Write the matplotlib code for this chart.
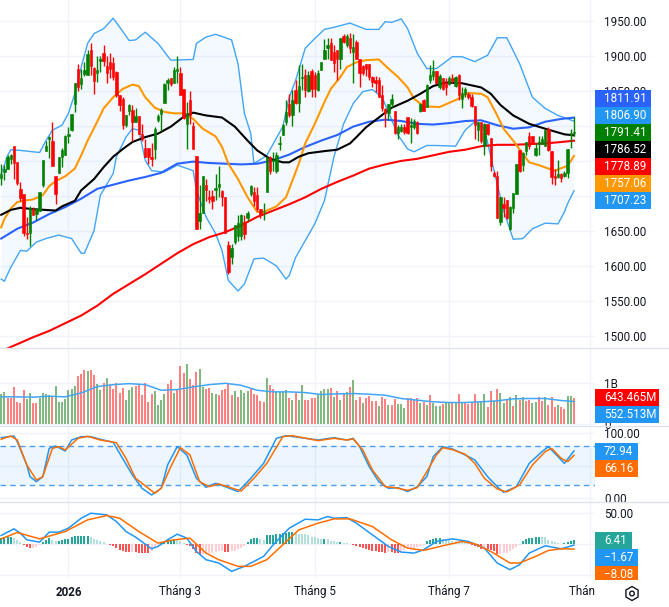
import numpy as np
import matplotlib
matplotlib.use('Agg')
import matplotlib.pyplot as plt
from matplotlib.patches import Rectangle, RegularPolygon, Circle

plt.rcParams['font.family'] = ['Roboto', 'DejaVu Sans']

# gia nen
opens = [1725,1734,1739,1753,1772,1749,1710,1703,1647,1647,
         1681,1674,1678,1716,1764,1781,1779,1729,1733,1756,
         1759,1785,1794,1831,1881,1860,1874,1873,1909,1883,
         1875,1893,1904,1885,1892,1890,1877,1844,1838,1802,
         1821,1823,1806,1814,1789,1769,1769,1756,1767,1808,
         1817,1833,1861,1869,1861,1879,1875,1853,1803,1837,
         1800,1757,1664,1675,1716,1698,1700,1708,1712,1707,
         1699,1630,1613,1634,1642,1643,1663,1669,1702,1706,
         1701,1681,1678,1705,1755,1750,1736,1774,1787,1805,
         1832,1816,1851,1833,1868,1873,1850,1879,1873,1851,
         1880,1895,1911,1918,1905,1908,1896,1928,1916,1925,
         1906,1920,1896,1886,1889,1889,1870,1865,1865,1844,
         1824,1818,1831,1822,1790,1793,1799,1813,1799,1799,
         1806,1821,1837,1827,1865,1871,1879,1855,1868,1862,
         1860,1869,1857,1873,1839,1846,1846,1841,1829,1794,
         1806,1772,1803,1783,1733,1729,1662,1688,1694,1652,
         1683,1702,1765,1744,1764,1785,1785,1759,1774,1774,
         1772,1796,1764,1728,1727,1731,1728,1733,1787,1790]
highs = [1746,1744,1758,1760,1772,1749,1720,1703,1670,1686,
         1684,1682,1706,1751,1779,1785,1805,1729,1755,1768,
         1787,1798,1817,1861,1888,1882,1892,1909,1918,1884,
         1900,1900,1916,1900,1904,1898,1879,1844,1841,1815,
         1832,1830,1826,1814,1803,1782,1769,1775,1799,1817,
         1825,1861,1868,1869,1884,1900,1884,1853,1834,1850,
         1806,1757,1716,1728,1724,1708,1708,1732,1743,1708,
         1699,1636,1631,1659,1672,1674,1672,1678,1715,1713,
         1713,1681,1690,1755,1757,1763,1763,1785,1803,1837,
         1846,1851,1865,1887,1888,1882,1878,1882,1877,1880,
         1891,1924,1926,1926,1916,1908,1926,1932,1932,1933,
         1932,1923,1896,1887,1889,1889,1871,1871,1870,1858,
         1825,1832,1846,1822,1801,1803,1803,1813,1812,1810,
         1807,1833,1838,1860,1887,1894,1879,1874,1869,1868,
         1871,1874,1871,1874,1855,1856,1849,1845,1829,1806,
         1806,1804,1803,1783,1736,1736,1699,1698,1694,1685,
         1704,1745,1765,1763,1777,1791,1785,1775,1785,1786,
         1795,1798,1764,1739,1751,1733,1736,1767,1795,1813]
lows = [1715,1722,1739,1746,1724,1715,1693,1643,1639,1629,
        1672,1665,1678,1713,1764,1754,1743,1688,1733,1741,
        1759,1775,1793,1820,1850,1853,1871,1873,1873,1845,
        1863,1877,1885,1861,1868,1866,1841,1822,1795,1799,
        1815,1778,1806,1788,1779,1755,1746,1743,1753,1806,
        1793,1833,1851,1857,1861,1861,1844,1810,1767,1803,
        1767,1652,1652,1675,1693,1690,1681,1694,1698,1686,
        1647,1588,1603,1631,1636,1637,1639,1664,1700,1685,
        1679,1669,1666,1705,1732,1736,1733,1766,1787,1802,
        1813,1800,1832,1820,1851,1841,1848,1841,1841,1850,
        1880,1895,1896,1894,1877,1865,1882,1918,1913,1904,
        1861,1895,1856,1873,1871,1865,1856,1849,1841,1822,
        1799,1808,1827,1789,1782,1791,1789,1789,1776,1796,
        1789,1820,1822,1827,1861,1865,1860,1853,1852,1844,
        1858,1861,1855,1837,1826,1841,1839,1827,1782,1779,
        1775,1758,1787,1736,1727,1669,1659,1670,1667,1651,
        1675,1702,1734,1736,1759,1767,1775,1757,1759,1774,
        1772,1764,1717,1716,1726,1720,1727,1726,1769,1785]
closes = [1732,1738,1756,1758,1747,1718,1697,1647,1645,1683,
          1672,1681,1705,1751,1772,1784,1743,1703,1755,1766,
          1785,1788,1817,1861,1855,1868,1880,1903,1886,1864,
          1880,1896,1893,1876,1882,1870,1844,1830,1801,1815,
          1830,1806,1814,1789,1781,1755,1755,1753,1796,1814,
          1823,1860,1866,1860,1880,1882,1844,1812,1818,1815,
          1767,1652,1676,1728,1708,1695,1693,1711,1717,1699,
          1647,1591,1626,1659,1661,1673,1645,1675,1714,1693,
          1681,1673,1679,1755,1735,1752,1758,1775,1801,1820,
          1815,1837,1833,1857,1870,1851,1873,1853,1853,1875,
          1891,1908,1916,1894,1890,1896,1925,1920,1928,1911,
          1913,1896,1876,1876,1882,1870,1863,1862,1842,1825,
          1818,1831,1838,1790,1799,1799,1791,1790,1801,1807,
          1790,1832,1822,1858,1873,1879,1861,1871,1853,1855,
          1868,1864,1870,1844,1847,1853,1841,1828,1801,1806,
          1779,1803,1788,1743,1729,1669,1699,1683,1669,1684,
          1704,1745,1735,1762,1777,1772,1775,1769,1777,1782,
          1794,1765,1727,1725,1732,1725,1733,1767,1790,1791.41]

# duong chi bao: moi duong co mang phien rieng
line_idx = list(range(0, 180, 5)) + [179]
ma_blue = [1639,1653,1662,1674,1684,1696,1710,1716,1722,1727,1733,1746,1749,1747,1746,1745,1746,1751,1759,
           1770,1779,1787,1799,1806,1809,1807,1803,1802,1804,1807,1808,1801,1796,1798,1806,1810,1811.91]
ma_red = [1478,1488,1498,1507,1518,1529,1543,1560,1574,1588,1603,1618,1631,1641,1648,1658,1670,1679,1688,
          1698,1710,1720,1729,1739,1745,1750,1753,1758,1763,1766,1771,1773,1773,1774,1775,1777,1778.89]

orange_idx = [0,1,3,5,7,10,13,15,17,20,23,25,27,30,32,35,38,41,43,45,48,51,54,57,60,63,67,69,71,74,77,80,82,86,89,91,93,95,98,
              101,103,106,108,111,114,118,121,124,127,129,132,137,140,143,146,150,152,155,157,160,163,165,168,171,173,177,179]
ma_orange = [1655,1667,1682,1691,1693,1695,1701,1714,1721,1728,1739,1758,1779,1806,1825,1841,1853,1859,1857,1841,1826,1820,
             1818,1818,1810,1796,1785,1770,1746,1724,1698,1677,1677,1685,1698,1722,1746,1775,1803,1834,1853,1870,1884,1891,
             1894,1895,1882,1870,1855,1839,1828,1827,1833,1839,1847,1846,1841,1815,1796,1779,1760,1748,1744,1739,1736,1743,1757.06]

black_idx = [0,3,6,10,17,19,23,25,29,32,35,38,41,45,49,53,57,60,64,69,73,77,80,84,88,90,93,96,101,105,109,111,114,118,122,127,
             131,135,139,144,150,153,156,160,165,170,176,179]
ma_black = [1673,1680,1683,1681,1679,1685,1693,1708,1724,1741,1756,1767,1777,1784,1789,1799,1813,1819,1815,1812,1799,1779,
            1765,1753,1748,1748,1756,1761,1764,1766,1775,1784,1798,1812,1826,1836,1846,1857,1862,1861,1855,1846,1830,1815,
            1803,1796,1788,1786.52]

upper_idx = [0,1,2,3,6,12,14,16,19,21,23,25,27,29,32,35,38,40,42,45,49,53,60,61,64,67,72,74,76,78,
             79,83,88,90,92,95,98,101,104,109,114,118,120,122,125,127,130,133,136,139,141,144,148,152,155,158,162,166,170,174,179]
bb_upper = [1732,1744,1758,1766,1765,1762,1779,1794,1801,1818,1846,1884,1918,1932,1939,1954,1935,1922,1923,1934,
            1918,1894,1895,1918,1927,1931,1923,1889,1818,1789,1746,1758,1799,1841,1865,1911,1925,1938,1941,1947,
            1938,1938,1949,1948,1953,1939,1904,1882,1882,1892,1899,1899,1892,1901,1926,1926,1889,1841,1825,1815,1806.90]

lower_idx = [0,1,3,6,8,11,14,18,22,25,26,29,31,35,36,39,41,43,45,47,51,55,60,61,64,67,69,71,74,76,
             79,82,86,89,90,92,95,98,101,104,107,110,113,116,119,121,124,127,129,133,136,142,145,148,151,154,157,160,163,166,
             170,174,176,177,179]
bb_lower = [1581,1578,1598,1622,1621,1634,1639,1644,1639,1618,1618,1650,1701,1732,1756,1784,1796,1794,1751,1736,
            1734,1744,1736,1708,1670,1646,1622,1579,1564,1574,1610,1611,1600,1581,1586,1612,1636,1660,1693,1756,
            1803,1832,1849,1852,1841,1820,1787,1767,1763,1772,1772,1771,1794,1806,1796,1736,1679,1638,1639,1653,
            1661,1660,1677,1689,1707.23]

# khoi luong (trieu)
volumes = [732,780,642,634,902,545,512,829,610,756,
           512,512,642,756,732,707,667,927,545,545,
           610,829,854,927,1171,1220,1317,1293,1317,1195,
           976,829,1000,1122,951,854,1000,756,878,585,
           829,902,927,976,707,1000,537,732,805,463,
           585,732,976,1073,756,854,1415,1244,1463,1098,
           951,1268,1341,902,854,878,756,732,707,829,
           854,976,707,805,659,829,756,805,854,732,
           707,561,537,1122,951,854,780,780,780,829,
           634,585,756,585,951,585,585,634,634,707,
           805,854,854,878,659,805,585,732,780,902,
           1073,585,659,512,634,683,561,561,439,659,
           610,463,463,626,480,480,390,634,634,602,
           634,512,537,463,707,512,431,447,488,537,
           512,537,512,732,504,512,488,512,732,537,
           561,732,415,805,561,854,756,512,585,659,
           439,707,585,659,561,585,512,537,659,561,
           659,463,659,415,463,415,366,683,683,643.465]
vol_colors = ('GGRRRRRRGG' 'RRGGGGRGGG' 'GGGGRRRGRR' 'GGRGRRRRRG' 'GGRRRRRRGG' 'GGRRGRRRGR'
              'RRGGRRGGRR' 'RRRGRGGGRR' 'RRRGRRGGGG' 'RGRGGRRRRG' 'GGGRGRGRGR' 'GRRGRRRRGR'
              'RGRRGGGRRR' 'RGRGRGGGRG' 'GRGRGRRRRG' 'GGRRGRGGRG' 'RGRGRRGGRR' 'GRRRGRRGGR')
vol_ma = [667,667,659,683,667,764,919,967,992,967,829,846,911,967,1000,951,829,789,789,
          772,724,740,748,732,707,626,585,545,528,528,545,569,618,626,626,577,552.513]

k_idx = [0,4,5,8,9,11,13,15,17,20,22,25,28,31,35,37,41,44,47,50,52,55,58,61,64,67,70,74,78,82,
         86,89,93,99,104,108,110,112,115,118,121,124,127,130,133,135,138,141,144,148,152,155,157,161,165,169,171,174,176,179]
stoch_k = [93.3,95.9,87.2,51.3,33.3,25.6,33.3,76.9,80.5,72.8,89.7,94.9,94.9,90.8,86.2,69.2,35.9,15.4,5.1,15.4,
           51.3,79.5,66.7,30.8,16.9,23.1,17.9,10.3,30.8,53.8,92.3,96.4,93.8,89.7,93.3,89.7,92.3,79.5,48.7,25.6,
           15.4,16.4,10.3,17.9,33.3,64.1,79.5,75.9,69.2,59,33.3,17.9,9.2,17.9,53.8,71.8,79.5,64.1,53.8,72.94]
d_idx = [0,3,5,8,11,13,16,18,20,24,27,31,36,39,42,48,50,53,56,59,62,65,68,75,79,83,88,91,99,104,
         108,110,113,116,120,123,127,130,133,136,138,141,145,148,151,155,158,162,166,170,172,175,177,179]
stoch_d = [90.8,95.9,89.7,51.3,28.2,33.3,76.9,79.5,74.4,92.3,95.4,89.7,85.6,61.5,30.8,7.7,15.4,48.7,77.9,66.7,
           25.6,17.9,22.1,11.3,30.8,53.8,94.9,96.4,88.7,92.3,89.7,91.3,74.4,43.6,17.9,16.4,12.3,16.4,41,66.7,
           77.9,74.9,67.7,53.8,30.8,14.4,9.7,20.5,51.3,71.8,76.9,61.5,56.4,66.16]

macd_idx = [0,4,6,8,12,15,18,21,25,28,33,36,39,42,47,49,52,55,58,61,64,68,72,76,82,85,90,95,99,102,
            104,108,111,116,121,125,129,132,136,141,146,151,155,159,162,165,170,175,179]
macd_line = [14.1,24.9,17.8,7,3.2,19.5,19.5,25.9,42.2,50.3,47.6,36.8,20.5,11.4,-7.6,-3.8,7,16.2,9.7,-11.9,
             -25.4,-30.8,-44.3,-36.2,-20,-1.1,25.9,40.5,39.5,44.9,42.2,43.2,34.1,15.1,-3.8,-13,-14.6,-9.2,4.3,8.6,
             4.3,-6.5,-30.8,-41.6,-33.5,-14.6,-2.7,-7.6,-1.67]
signal_idx = [0,5,12,20,27,33,37,43,49,54,59,64,68,74,78,83,88,93,99,104,109,116,122,127,132,138,144,148,153,159,
              162,167,171,175,179]
macd_signal = [8.6,18.9,8.6,20.5,39.5,46.5,42.2,20.5,1.6,7,9.7,-14.6,-25.4,-36.2,-36.2,-25.4,-1.1,23.2,34.1,41.1,
               41.1,28.6,7,-6.5,-10.3,-2.7,4.3,0.5,-11.9,-30.8,-30.8,-20,-10.3,-7.6,-8.08]
macd_hist = [9.7,10.8,10.8,11.9,9.7,6.5,2.7,-2.2,-5.4,-7,
             -6.9,-5.4,-1.6,2.7,6.5,9.7,6.5,5.4,5.4,6.5,
             7.6,8.6,10.8,13,13.5,13.6,13.7,13.8,10.8,7.6,
             6.5,5.4,3.2,0.5,-1.1,-3.2,-6.5,-9.2,-11.9,-13.5,
             -13.6,-13,-13.5,-14.1,-14.2,-15.1,-15.2,-11.9,-5.4,-1.6,
             1.6,4.3,5.9,6.5,8.1,7.6,4.3,1.6,-1.1,-3.2,
             -7.6,-15.1,-17.3,-16.5,-16.2,-15.1,-14.1,-13,-11.9,-10.8,
             -13,-13.1,-11.9,-10.8,-8.1,-6.5,-3.2,3.2,8.6,9.2,
             9.3,7.6,7.5,14.6,15.1,15.2,15.7,16.2,17.3,18.9,
             20,20.1,17.3,17,16.2,16.1,15.1,12.4,10.8,9.2,
             8.1,8.2,7.6,5.4,4.3,3.2,3.8,2.2,1.6,0.5,
             -1.6,-2.7,-4.3,-6.5,-8.1,-9.7,-10.8,-11.9,-13,-13.5,
             -14.1,-13,-13.5,-14.1,-14.2,-11.9,-9.7,-8.1,-7,-6.5,
             -5.4,-3.2,-1.1,4.3,7,8.6,9.2,9.3,7.6,6.5,
             6.4,5.4,5.3,4.3,3.2,2.2,1.1,-1.6,-3.2,-5.4,
             -7.6,-6.5,-7.6,-9.7,-10.8,-15.5,-15.3,-15.1,-14,-11.9,
             -8.1,-4.3,-1.1,5.4,7.6,9.2,10.3,10.8,11.9,11.8,
             10.8,7,5.4,3.8,1.6,-0.5,1.1,3.2,4.3,6.41]

# truc
price_ticks = [1500,1550,1600,1650,1700,1750,1800,1850,1900,1950]
price_labels = ['1500.00','1550.00','1600.00','1650.00','','','','1850.00','1900.00','1950.00']
month_idx = [21,56,98,140,184]
month_labels = ['2026','Tháng 3','Tháng 5','Tháng 7','Tháng 9']

# nhan ben phai
main_tags = ['1811.91','1806.90','1791.41','1786.52','1778.89','1757.06','1707.23']
main_tag_colors = ['#2962ff','#2196f3','#008000','#000000','#ff0000','#ff9800','#2196f3']
vol_tags = ['643.465M','552.513M']
vol_tag_colors = ['#ff0000','#2196f3']
stoch_tags = ['72.94','66.16']
stoch_tag_colors = ['#2196f3','#ff6d00']
macd_tags = ['6.41','\u22121.67','\u22128.08']
macd_tag_colors = ['#26a69a','#2196f3','#ff6d00']

W, H = 669, 607
PANE_R = 595
GRID = '#f0f3fa'
SEP = '#e0e3eb'
TXT = '#131722'
FS = 8.4

fig = plt.figure(figsize=(W / 100, H / 100), dpi=100)


def pane(top, bottom, ylim):
    ax = fig.add_axes([0, 1 - bottom / H, PANE_R / W, (bottom - top) / H])
    ax.set_xlim(-0.375, 185.56)
    ax.set_ylim(*ylim)
    ax.set_xticks(month_idx)
    ax.set_xticklabels([])
    ax.tick_params(length=0, labelleft=False, labelright=True, pad=6.5, labelsize=FS, labelcolor=TXT)
    ax.yaxis.tick_right()
    ax.grid(True, color=GRID, lw=1)
    ax.set_axisbelow(True)
    for s in ax.spines.values():
        s.set_visible(False)
    return ax


idx = np.arange(len(closes))
opens_a = np.array(opens, dtype=float)
closes_a = np.array(closes, dtype=float)

# gia
ax = pane(0, 347.7, (1483, 1980))
ax.set_yticks(price_ticks)
ax.set_yticklabels(price_labels)
ax.fill(upper_idx + lower_idx[::-1], bb_upper + bb_lower[::-1], color='#2196f3', alpha=0.05, lw=0)
ax.plot(upper_idx, bb_upper, color='#42a5f5', lw=1)
ax.plot(lower_idx, bb_lower, color='#42a5f5', lw=1)
ax.plot(line_idx, ma_red, color='#ff0000', lw=1.5)
ax.plot(line_idx, ma_blue, color='#2962ff', lw=1.5, zorder=2.2)
candle_colors = ['#008000' if c >= o else '#ff0000' for o, c in zip(opens, closes)]
ax.vlines(idx, lows, highs, colors=candle_colors, lw=1, zorder=3)
ax.bar(idx, np.abs(closes_a - opens_a), bottom=np.minimum(opens_a, closes_a), width=0.8,
       color=candle_colors, edgecolor=candle_colors, lw=0.4, zorder=3)
ax.plot(orange_idx, ma_orange, color='#ff9800', lw=1.5, zorder=2.5)
ax.plot(black_idx, ma_black, color='#000000', lw=1.5, zorder=2.5)

# khoi luong
ax = pane(347.7, 426.3, (-57, 1875))
ax.set_yticks([0, 1000])
ax.set_yticklabels(['0', '1B'])
v_cols = ['#7fb97f' if c == 'G' else '#ff8080' for c in vol_colors]
ax.bar(idx, volumes, width=0.62, color=v_cols, lw=0)
ax.plot(line_idx, vol_ma, color='#42a5f5', lw=1.1)

# stochastic
ax = pane(426.3, 502.3, (-6.15, 110.8))
ax.set_yticks([0, 50, 100])
ax.set_yticklabels(['0.00', '', '100.00'])
ax.axhspan(20, 80, color='#2196f3', alpha=0.08, lw=0)
ax.axhline(80, color='#4a9df2', lw=1, ls=(0, (4, 3)))
ax.axhline(20, color='#4a9df2', lw=1, ls=(0, (4, 3)))
ax.plot(k_idx, stoch_k, color='#2196f3', lw=1.1)
ax.plot(d_idx, stoch_d, color='#ff6d00', lw=1.1)

# macd
ax = pane(502.3, 579, (-56.8, 68.1))
ax.set_yticks([-50, 0, 50])
ax.set_yticklabels(['', '', '50.00'])
hist_cols = []
for i, h in enumerate(macd_hist):
    prev = macd_hist[i - 1] if i else h
    if h >= 0:
        hist_cols.append('#26a69a' if h >= prev else '#b2dfdb')
    else:
        hist_cols.append('#ffcdd2' if h >= prev else '#ff5252')
ax.bar(idx, macd_hist, width=0.62, color=hist_cols, lw=0)
ax.plot(macd_idx, macd_line, color='#2196f3', lw=1.1)
ax.plot(signal_idx, macd_signal, color='#ff6d00', lw=1.1)

# lop phu: nhan gia, duong phan cach, truc thoi gian
ov = fig.add_axes([0, 0, 1, 1], zorder=10)
ov.set_xlim(0, W)
ov.set_ylim(H, 0)
ov.axis('off')
ov.patch.set_alpha(0)

for y in [347.7, 426.3, 502.3]:
    ov.plot([0, W], [y, y], color=SEP, lw=1)

tag_clip = Rectangle((0, 0), W, 579.5, transform=ov.transData)


def tags(texts, colors, top, height, right):
    for k, (t, c) in enumerate(zip(texts, colors)):
        y = top + k * height
        box = Rectangle((595, y), right - 595, height, color=c, lw=0)
        ov.add_patch(box)
        box.set_clip_path(tag_clip)
        lab = ov.text(604, y + height / 2, t, color='white', fontsize=FS, va='center', ha='left')
        lab.set_clip_on(True)
        lab.set_clip_path(tag_clip)


tags(main_tags, main_tag_colors, 90, 17, 651)
tags(vol_tags, vol_tag_colors, 389, 17, 659)
tags(stoch_tags, stoch_tag_colors, 443, 17, 638)
tags(macd_tags[:1], macd_tag_colors[:1], 532, 17, 632)
tags(macd_tags[1:], macd_tag_colors[1:], 549, 17, 638)

clip = Rectangle((0, 575), PANE_R, 32, transform=ov.transData)
for i, lab in zip(month_idx, month_labels):
    x = 1.2 + 3.2 * i
    t = ov.text(x, 592, lab, ha='center', va='center', fontsize=FS, color=TXT,
                fontweight='bold' if lab == '2026' else 'normal')
    t.set_clip_on(True)
    t.set_clip_path(clip)

ov.add_patch(RegularPolygon((632, 593.5), 6, radius=7, fill=False, ec=TXT, lw=1))
ov.add_patch(Circle((632, 593.5), 2.3, fill=False, ec=TXT, lw=1))

fig.savefig('out.png', dpi=100)
